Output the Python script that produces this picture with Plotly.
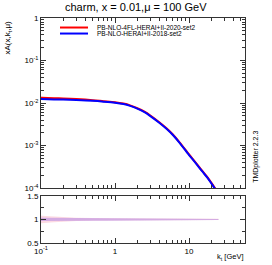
import plotly.graph_objects as go
import numpy as np

kt = [0.1, 0.15, 0.2, 0.3, 0.5, 0.7, 1.0, 1.3, 1.6, 2.0, 2.5, 3.0, 4.0, 5.0, 6.0, 7.5, 10, 12, 15, 18, 22, 25]
blue_vals = [1.24e-2, 1.22e-2, 1.21e-2, 1.18e-2, 1.13e-2, 1.08e-2, 1.02e-2, 9.5e-3, 8.6e-3, 7.4e-3, 6.1e-3,
             4.95e-3, 3.4e-3, 2.45e-3, 1.8e-3, 1.15e-3, 6.0e-4, 4.1e-4, 2.5e-4, 1.7e-4, 1.02e-4, 7.5e-5]
red_vals = [1.33e-2, 1.30e-2, 1.28e-2, 1.24e-2, 1.17e-2, 1.11e-2, 1.05e-2, 9.75e-3, 8.85e-3, 7.6e-3, 6.28e-3,
            5.1e-3, 3.5e-3, 2.52e-3, 1.85e-3, 1.18e-3, 6.2e-4, 4.22e-4, 2.58e-4, 1.75e-4, 1.05e-4, 7.7e-5]
red_relerr = [0.08, 0.06, 0.045, 0.035, 0.03, 0.028, 0.025, 0.024, 0.022, 0.02, 0.02, 0.02, 0.02, 0.018,
              0.018, 0.018, 0.016, 0.016, 0.015, 0.015, 0.014, 0.014]
blue_relerr = [0.035, 0.033, 0.032, 0.03, 0.028, 0.026, 0.024, 0.022, 0.02, 0.019, 0.018, 0.018, 0.017, 0.016,
               0.016, 0.015, 0.014, 0.014, 0.013, 0.013, 0.012, 0.012]

red_name = "PB-NLO-4FL-HERAI+II-2020-set2"
blue_name = "PB-NLO-HERAI+II-2018-set2"
title = "charm, x = 0.01,μ = 100 GeV"
y_ticks_main = [1e-4, 1e-3, 1e-2, 1e-1, 1]
y_ticktext_main = ["10<sup>-4</sup>", "10<sup>-3</sup>", "10<sup>-2</sup>", "10<sup>-1</sup>", "1"]
x_ticks = [0.1, 1, 10]
x_ticktext = ["10<sup>-1</sup>", "1", "10"]

RED = "#ff0000"
BLUE = "#0000ff"
RED_BAND = "rgba(245,150,175,0.35)"
BLUE_BAND = "rgba(150,100,225,0.40)"
FONT = "Liberation Sans, Arial, sans-serif"
AX = "#333333"

k = np.array(kt)
rv, bv = np.array(red_vals), np.array(blue_vals)
re, be = np.array(red_relerr), np.array(blue_relerr)

fig = go.Figure()

def band(x, lo, hi, color, xa, ya):
    fig.add_trace(go.Scatter(x=list(x) + list(x[::-1]), y=list(hi) + list(lo[::-1]), fill="toself",
                             fillcolor=color, line=dict(width=0), mode="lines", hoverinfo="skip",
                             showlegend=False, xaxis=xa, yaxis=ya))

# main panel
band(k, rv * (1 - re), rv * (1 + re), RED_BAND, "x", "y")
band(k, bv * (1 - be), bv * (1 + be), BLUE_BAND, "x", "y")
fig.add_trace(go.Scatter(x=kt, y=red_vals, mode="lines", line=dict(color=RED, width=2, shape="spline", smoothing=0.8),
                         name=red_name, showlegend=False, xaxis="x", yaxis="y"))
fig.add_trace(go.Scatter(x=kt, y=blue_vals, mode="lines", line=dict(color=BLUE, width=2, shape="spline", smoothing=0.8),
                         name=blue_name, showlegend=False, xaxis="x", yaxis="y"))

# ratio panel
band(k, 1 - re, 1 + re, RED_BAND, "x2", "y2")
band(k, 1 - be, 1 + be, BLUE_BAND, "x2", "y2")

xmax = np.log10(57)
common_x = dict(type="log", range=[-1, xmax], showgrid=False, zeroline=False, showline=True, linecolor=AX,
                linewidth=1, mirror="ticks", ticks="inside", ticklen=5, tickcolor=AX, automargin=False,
                tickvals=x_ticks, ticktext=x_ticktext,
                minor=dict(ticks="inside", ticklen=3, tickcolor=AX, dtick="D1", showgrid=False),
                tickfont=dict(size=8, family=FONT, color="#000"))

main_dom = [0.2437, 1.0]
ratio_dom = [0.0, 0.2094]

fig.update_layout(
    width=272, height=265,
    margin=dict(l=41, r=27, t=18, b=22),
    paper_bgcolor="white", plot_bgcolor="white",
    font=dict(family=FONT, size=8, color="#000"),
    xaxis=dict(**common_x, domain=[0, 1], anchor="y", showticklabels=False),
    yaxis=dict(type="log", range=[-4, 0], domain=main_dom, anchor="x", showgrid=False, zeroline=False,
               showline=True, linecolor=AX, linewidth=1, mirror="ticks", ticks="inside", ticklen=5,
               tickcolor=AX, tickvals=y_ticks_main, ticktext=y_ticktext_main, automargin=False,
               minor=dict(ticks="inside", ticklen=3, tickcolor=AX, dtick="D1", showgrid=False),
               tickfont=dict(size=8, family=FONT, color="#000")),
    xaxis2=dict(**common_x, domain=[0, 1], anchor="y2", showticklabels=True),
    yaxis2=dict(range=[0.5, 1.5], domain=ratio_dom, anchor="x2", showgrid=False, zeroline=False,
                showline=True, linecolor=AX, linewidth=1, mirror="ticks", ticks="inside", ticklen=5,
                tickcolor=AX, tickvals=[0.5, 1, 1.5], ticktext=["0.5", "1", "1.5"], automargin=False,
                minor=dict(ticks="inside", ticklen=3, tickcolor=AX, dtick=0.25, showgrid=False),
                tickfont=dict(size=8, family=FONT, color="#000")),
    showlegend=False,
)

fig.add_annotation(text=title, xref="paper", yref="paper", x=(136 - 41) / 204, y=1 + (18.5 - 8) / 224.5,
                   showarrow=False, font=dict(size=11, family=FONT, color="#000"), xanchor="center",
                   yanchor="middle")
fig.add_annotation(text="xA(x,k<sub>t</sub>,μ)", xref="paper", yref="paper", x=(8 - 41) / 204,
                   y=1 - (38 - 18.5) / 224.5, textangle=-90, showarrow=False,
                   font=dict(size=8, family=FONT, color="#000"), xanchor="center", yanchor="middle")
fig.add_annotation(text="TMDplotter 2.2.3", xref="paper", yref="paper", x=(256 - 41) / 204,
                   y=1 - (157 - 18.5) / 224.5, textangle=-90, showarrow=False,
                   font=dict(size=7, family=FONT, color="#000"), xanchor="center", yanchor="middle")
fig.add_annotation(text="k<sub>t</sub> [GeV]", xref="paper", yref="paper", x=1.0,
                   y=-(257 - 243) / 224.5, showarrow=False,
                   font=dict(size=7.5, family=FONT, color="#000"), xanchor="right", yanchor="middle")

# legend
for i, (nm, col) in enumerate([(red_name, RED), (blue_name, BLUE)]):
    yy = 1 - (28 + 6 * i - 18.5) / 224.5
    fig.add_shape(type="line", xref="paper", yref="paper", x0=(60 - 41) / 204, x1=(88 - 41) / 204,
                  y0=yy, y1=yy, line=dict(color=col, width=2))
    fig.add_annotation(text=nm, xref="paper", yref="paper", x=(95 - 41) / 204, y=yy, showarrow=False,
                       xanchor="left", yanchor="middle", font=dict(size=6.5, family=FONT, color="#000"))

fig.write_html("out.html", config={"displayModeBar": False},
               post_script="document.body.style.margin='0';")
